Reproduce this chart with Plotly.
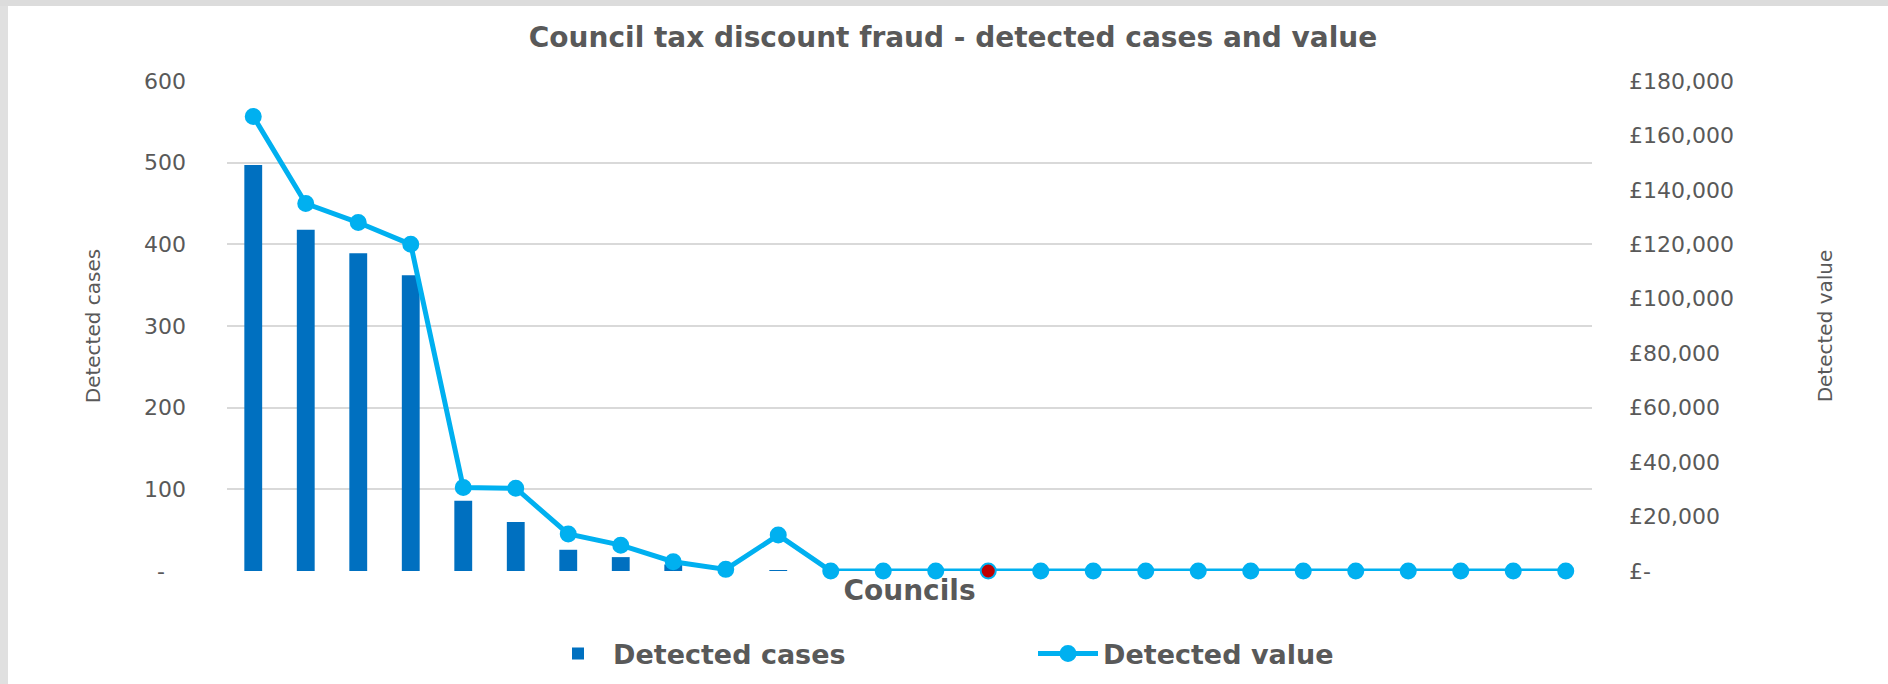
import plotly.graph_objects as go

# ---- data ----
councils = [f"Council {i}" for i in range(1, 27)]
detected_cases = [497, 418, 389, 362, 86, 60, 26, 17, 8, 0, 1, 0, 0, 0, 0,
                  0, 0, 0, 0, 0, 0, 0, 0, 0, 0, 0]
detected_value = [167000, 135000, 128000, 120000, 30700, 30400, 13600, 9500,
                  3400, 600, 13200, 0, 0, 0, 0, 0, 0, 0, 0, 0, 0, 0, 0, 0, 0, 0]
highlight_index = 14

left_ticks = [0, 100, 200, 300, 400, 500, 600]
left_labels = ["-\u00a0\u00a0\u00a0", "100", "200", "300", "400", "500", "600"]
right_ticks = [0, 20000, 40000, 60000, 80000, 100000, 120000, 140000, 160000, 180000]
right_labels = ["£-", "£20,000", "£40,000", "£60,000", "£80,000", "£100,000",
                "£120,000", "£140,000", "£160,000", "£180,000"]

BAR = "#0070C0"
LINE = "#00B0F0"
RED = "#C00000"
TXT = "#595959"
FONT = "DejaVu Sans"

marker_colors = [RED if i == highlight_index else LINE for i in range(len(councils))]

fig = go.Figure()
fig.add_trace(go.Bar(
    x=councils, y=detected_cases, name="Detected cases",
    marker=dict(color=BAR, line=dict(width=0)), width=0.34,
    cliponaxis=False,
))
fig.add_trace(go.Scatter(
    x=councils, y=detected_value, name="Detected value", yaxis="y2",
    mode="lines+markers",
    line=dict(color=LINE, width=5),
    marker=dict(size=15, color=marker_colors, line=dict(color=LINE, width=2)),
    cliponaxis=False,
))

W, H = 1888, 684
L, R, T, B = 227, 296, 81, 113
pw, ph = W - L - R, H - T - B

def px_x(x):
    return (x - L) / pw

def px_y(y):
    return (H - B - y) / ph

fig.update_layout(
    width=W, height=H,
    margin=dict(l=L, r=R, t=T, b=B, autoexpand=False),
    paper_bgcolor="white", plot_bgcolor="white",
    font=dict(family=FONT, color=TXT),
    title=dict(text="<b>Council tax discount fraud - detected cases and value</b>",
               x=953 / W, xanchor="center", y=1 - 37 / H, yanchor="middle",
               font=dict(size=28, color=TXT, family=FONT)),
    showlegend=True,
    legend=dict(orientation="h", x=px_x(543), xanchor="left",
                y=px_y(654), yanchor="middle",
                font=dict(size=27, color=TXT, family=FONT, weight="bold"),
                entrywidth=415, itemwidth=60, bgcolor="rgba(0,0,0,0)"),
    xaxis=dict(range=[-0.5, len(councils) - 0.5],
               showticklabels=False, showgrid=False, ticks="", showline=False,
               zeroline=False,
               title=dict(text="<b>Councils</b>", standoff=9,
                          font=dict(size=28, color=TXT, family=FONT))),
    yaxis=dict(range=[0, 600], tickvals=left_ticks, ticktext=left_labels,
               showgrid=True, gridcolor="#d9d9d9", gridwidth=1.5,
               zeroline=False, showline=False, ticks="",
               ticklabelstandoff=40,
               tickfont=dict(size=22, color=TXT, family=FONT),
               title=dict(text="Detected cases", standoff=38,
                          font=dict(size=20, color=TXT, family=FONT))),
    yaxis2=dict(range=[0, 180000], overlaying="y", side="right",
                tickvals=right_ticks, ticktext=right_labels,
                showgrid=False, zeroline=False, showline=False, ticks="",
                ticklabelstandoff=36,
                tickfont=dict(size=22, color=TXT, family=FONT),
                title=dict(text="Detected value", standoff=85,
                           font=dict(size=20, color=TXT, family=FONT))),
    shapes=[
        dict(type="rect", xref="paper", yref="paper",
             x0=px_x(0), x1=px_x(8), y0=px_y(H), y1=px_y(0),
             fillcolor="#e0e0e0", line=dict(width=0), layer="below"),
        dict(type="rect", xref="paper", yref="paper",
             x0=px_x(0), x1=px_x(W), y0=px_y(6), y1=px_y(0),
             fillcolor="#dcdcdc", line=dict(width=0), layer="below"),
    ],
)

fig.write_html("out.html", config={"displayModeBar": False},
               post_script="document.body.style.margin='0';document.body.style.overflow='hidden';")
